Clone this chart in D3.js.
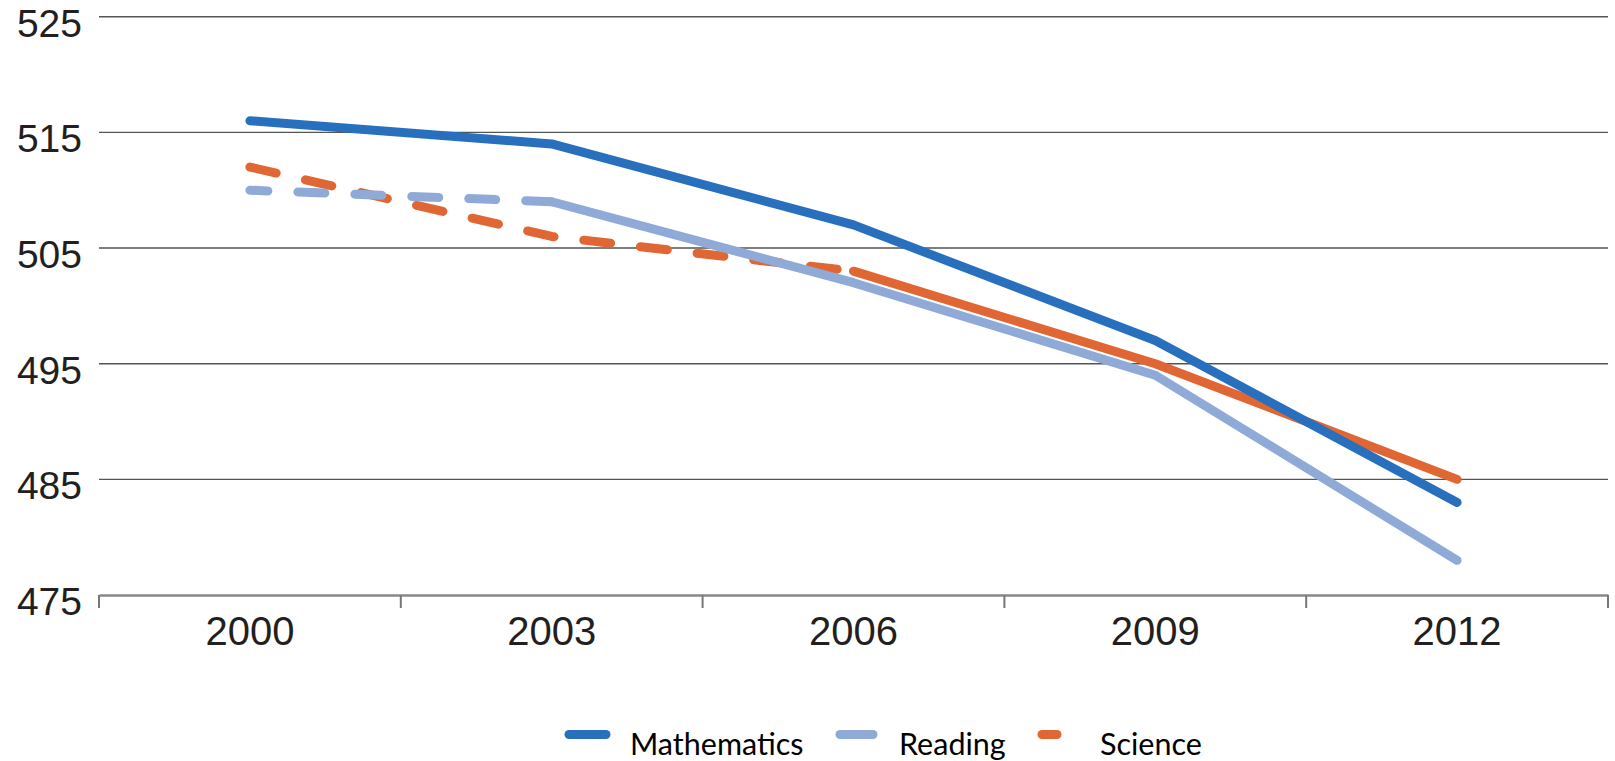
<!DOCTYPE html>
<html>
<head>
<meta charset="utf-8">
<script src="https://cdn.jsdelivr.net/npm/d3@7"></script>
<style>
  html, body { margin: 0; padding: 0; background: #fff; }
  svg { display: block; }
</style>
</head>
<body>
<svg id="chart" width="1615" height="761"></svg>
<script>
// ---- data ----
const years = ["2000", "2003", "2006", "2009", "2012"];
const mathematics = [516, 514, 507, 497, 483];
const reading = [510, 509, 502, 494, 478];
const science = [512, 506, 503, 495, 485];
const yTickValues = [475, 485, 495, 505, 515, 525];
const seriesNames = ["Mathematics", "Reading", "Science"];
// index of the last point reached by the dashed part of each series
const dashedUntil = [0, 1, 2];

const colors = { Mathematics: "#2870bd", Reading: "#8faad7", Science: "#e06634" };

const svg = d3.select("#chart");
const W = 1615, H = 761;
const margin = { left: 99, right: 7 };

const x = d3.scaleBand().domain(years).range([margin.left, W - margin.right]).padding(0);
const y = d3.scaleLinear().domain([475, 525]).range([595, 16.7]);

// gridlines
const grid = svg.append("g");
grid.selectAll("line").data(yTickValues.filter(v => v !== 475)).join("line")
  .attr("x1", margin.left).attr("x2", W - margin.right)
  .attr("y1", d => y(d)).attr("y2", d => y(d))
  .attr("stroke", "#555").attr("stroke-width", 1.4);

// y axis labels
const yAxis = d3.axisLeft(y).tickValues(yTickValues).tickSize(0).tickPadding(17).tickFormat(d3.format("d"));
const gy = svg.append("g").attr("transform", `translate(${margin.left},0)`).call(yAxis);
gy.select(".domain").remove();
gy.selectAll("text")
  .attr("font-family", "'Liberation Sans', Arial, sans-serif")
  .attr("font-size", 39).attr("fill", "#231f20")
  .attr("dy", "0.5em");

// x axis
const xAxis = d3.axisBottom(x).tickSize(0).tickPadding(22);
const gx = svg.append("g").attr("transform", `translate(0,${y(475)})`).call(xAxis);
gx.select(".domain").attr("stroke", "#888").attr("stroke-width", 2.4);
gx.selectAll("text")
  .attr("font-family", "'Liberation Sans', Arial, sans-serif")
  .attr("font-size", 40).attr("fill", "#231f20");
// tick marks between categories
const boundaries = years.map(d => x(d)).concat([x(years[years.length - 1]) + x.bandwidth()]);
gx.selectAll("line.sep").data(boundaries).join("line").attr("class", "sep")
  .attr("x1", d => d).attr("x2", d => d).attr("y1", 0).attr("y2", 13)
  .attr("stroke", "#777").attr("stroke-width", 2);

// lines
const line = d3.line()
  .x(d => x(d.year) + x.bandwidth() / 2)
  .y(d => y(d.value));

const allSeries = [mathematics, reading, science];
const drawOrder = [2, 1, 0];
const gLines = svg.append("g");
drawOrder.forEach(i => {
  const name = seriesNames[i];
  const pts = years.map((yr, j) => ({ year: yr, value: allSeries[i][j] }));
  const k = dashedUntil[i];
  if (k > 0) {
    gLines.append("path")
      .attr("d", line(pts.slice(0, k + 1)))
      .attr("fill", "none").attr("stroke", colors[name]).attr("stroke-width", 9)
      .attr("stroke-linecap", "round").attr("stroke-linejoin", "round")
      .attr("stroke-dasharray", "27 30")
      .attr("stroke-dashoffset", name === "Reading" ? 9 : 0);
  }
  gLines.append("path")
    .attr("d", line(pts.slice(k)))
    .attr("fill", "none").attr("stroke", colors[name]).attr("stroke-width", 9)
    .attr("stroke-linecap", "round").attr("stroke-linejoin", "round");
});

// legend
const legendItems = [
  { name: "Mathematics", x1: 569, x2: 606, tx: 630 },
  { name: "Reading", x1: 840, x2: 873, tx: 899 },
  { name: "Science", x1: 1042, x2: 1057, tx: 1100 }
];
const lg = svg.append("g");
legendItems.forEach(it => {
  lg.append("line")
    .attr("x1", it.x1).attr("x2", it.x2).attr("y1", 734.5).attr("y2", 734.5)
    .attr("stroke", colors[it.name]).attr("stroke-width", 9).attr("stroke-linecap", "round");
  lg.append("text")
    .attr("x", it.tx).attr("y", 755)
    .attr("font-family", "Lato, 'Open Sans', sans-serif")
    .attr("font-size", 30.5).attr("fill", "#000")
    .text(it.name);
});
</script>
</body>
</html>
